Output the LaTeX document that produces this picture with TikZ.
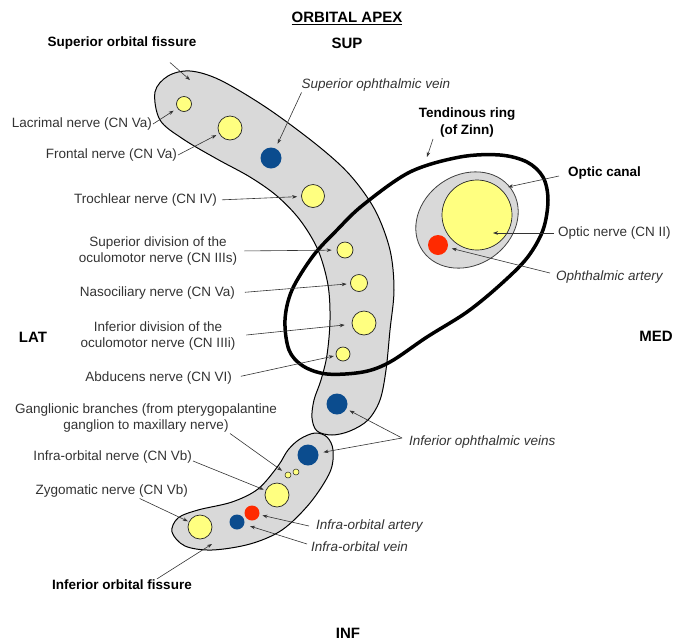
\documentclass[tikz,border=0pt]{standalone}
\usepackage{fontspec}
\setmainfont{Liberation Sans}
\usetikzlibrary{arrows.meta}
\definecolor{bandgray}{HTML}{D9D9D9}
\definecolor{nerveyellow}{HTML}{FFFF80}
\definecolor{veinblue}{HTML}{0B4C8E}
\definecolor{arteryred}{HTML}{FF2A00}
\begin{document}
\begin{tikzpicture}[x=1pt,y=-1pt,
  lab/.style={font=\fontsize{13.5}{16}\selectfont, text=black!80, inner sep=1pt, align=center},
  blab/.style={font=\fontsize{13.5}{17}\selectfont\bfseries, text=black, inner sep=1pt, align=center},
  ilab/.style={font=\fontsize{13.5}{16}\selectfont\itshape, text=black!80, inner sep=1pt},
  head/.style={font=\fontsize{15}{18}\selectfont\bfseries, inner sep=1pt},
  nerve/.style={circle, draw=black!85, line width=0.7pt, fill=nerveyellow, inner sep=0pt},
  vein/.style={circle, fill=veinblue, inner sep=0pt},
  artery/.style={circle, fill=arteryred, inner sep=0pt},
  fissure/.style={draw=black, line width=1pt, fill=bandgray},
  arr/.style={draw=black!80, line width=0.6pt, -{Stealth[length=5pt,width=3.6pt]}},
  ring/.style={draw=black, line width=3.5pt}
]
\useasboundingbox (0,0) rectangle (673,641);

% superior orbital fissure band
\draw[fissure] plot[smooth cycle, tension=0.55] coordinates {
 (155,92) (168,76) (190,71) (220,80) (267,108) (317,145) (350,175) (375,210)
 (390,250) (394,290) (390,330) (386,370) (380,400) (368,420) (350,431) (332,435)
 (317,431) (312,418) (314,400) (321,380) (327,355) (330,320) (328,285) (318,250)
 (300,220) (277,196) (250,177) (217,159) (183,139) (160,120)};

% inferior orbital fissure band
\draw[fissure] plot[smooth cycle, tension=0.55] coordinates {
 (300,439) (315,433) (327,437) (333,450) (330,472) (310,503) (282,530) (250,544)
 (212,550) (185,546) (172,532) (178,518) (198,510) (232,502) (258,489) (278,466) (288,450)};

% optic canal
\draw[fill=bandgray, draw=black!75, line width=0.8pt, rotate around={35:(467,220)}]
  (467,220) ellipse [x radius=54pt, y radius=45pt];

% structures
\node[nerve, minimum size=15pt] (lac) at (184,104) {};
\node[nerve, minimum size=24pt] (fro) at (230,128) {};
\node[vein, minimum size=21pt] (sov) at (271,158) {};
\node[nerve, minimum size=23pt] (tro) at (313,196) {};
\node[nerve, minimum size=16pt] (sdiv) at (345,250) {};
\node[nerve, minimum size=17pt] (naso) at (359,283) {};
\node[nerve, minimum size=24pt] (idiv) at (364,323) {};
\node[nerve, minimum size=14pt] (abd) at (343,354) {};
\node[vein, minimum size=21pt] (iovA) at (337,404) {};
\node[vein, minimum size=21pt] (iovB) at (308,455) {};
\node[nerve, minimum size=6pt, line width=0.5pt] (gbA) at (288,475) {};
\node[nerve, minimum size=6pt, line width=0.5pt] (gbB) at (296,472) {};
\node[nerve, minimum size=24pt] (ion) at (277,495) {};
\node[artery, minimum size=15pt] (ioa) at (252,513) {};
\node[vein, minimum size=15pt] (iovn) at (237,522) {};
\node[nerve, minimum size=24pt] (zyg) at (200,527) {};
\node[nerve, minimum size=70pt] (on) at (477,215) {};
\node[artery, minimum size=20pt] (oa) at (438,245) {};

% tendinous ring
\draw[ring] plot[smooth cycle, tension=0.55] coordinates {
 (460,157) (500,155) (527,162) (543,177) (548,200) (543,230) (527,258) (500,285)
 (467,312) (427,337) (390,362) (363,372) (327,374) (303,366) (289,350) (285,320)
 (292,290) (313,256) (337,230) (363,205) (410,172)};

% headings
\node[head] (title) at (347,18) {\underline{ORBITAL APEX}};
\node[head] (sup) at (347,43) {SUP};
\node[head] (lat) at (33,337) {LAT};
\node[head] (med) at (656,336) {MED};
\node[head] (inf) at (348,633) {INF};

% labels
\node[blab] (sofl) at (122,43) {Superior orbital fissure};
\node[lab, anchor=east] (lacl) at (153,124) {Lacrimal nerve (CN Va)};
\node[lab, anchor=east] (frol) at (178,155) {Frontal nerve (CN Va)};
\node[lab, anchor=east] (trol) at (218,200) {Trochlear nerve (CN IV)};
\node[lab] (sdivl) at (158,251) {Superior division of the\\oculomotor nerve (CN IIIs)};
\node[lab, anchor=east] (nasol) at (236,293) {Nasociliary nerve (CN Va)};
\node[lab] (idivl) at (158,336) {Inferior division of the\\oculomotor nerve (CN IIIi)};
\node[lab, anchor=east] (abdl) at (233,378) {Abducens nerve (CN VI)};
\node[lab] (gbl) at (146,418) {Ganglionic branches (from pterygopalantine\\ganglion to maxillary nerve)};
\node[lab, anchor=east] (ionl) at (193,457) {Infra-orbital nerve (CN Vb)};
\node[lab, anchor=east] (zygl) at (189,491) {Zygomatic nerve (CN Vb)};
\node[blab] (iofl) at (122,585) {Inferior orbital fissure};

\node[ilab] (sovl) at (376,85) {Superior ophthalmic vein};
\node[blab] (trl) at (467,123) {Tendinous ring\\(of Zinn)};
\node[blab, anchor=west] (ocl) at (567,173) {Optic canal};
\node[lab, anchor=west] (onl) at (557,233) {Optic nerve (CN II)};
\node[ilab, anchor=west] (oal) at (555,277) {Ophthalmic artery};
\node[ilab, anchor=west] (iovl) at (408,442) {Inferior ophthalmic veins};
\node[ilab, anchor=west] (ioal) at (315,526) {Infra-orbital artery};
\node[ilab, anchor=west] (iovnl) at (310,547) {Infra-orbital vein};

% arrow end points on shapes
\coordinate (sofT) at (190,80);
\coordinate (iofT) at (212,544);
\coordinate (trT) at (427,157);
\coordinate (ocT) at (508,187);
\coordinate (onT) at (493,233);

% arrows
\draw[arr] ([xshift=48pt,yshift=-12pt]sofl.south) -- (sofT);
\draw[arr, shorten >=4.5pt] (lacl.east) -- (lac);
\draw[arr, shorten >=3pt] (frol.east) -- (fro);
\draw[arr, shorten <=4pt, shorten >=4pt] (trol.east) -- (tro);
\draw[arr, shorten <=6pt, shorten >=5pt] (sdivl.east) -- (sdiv);
\draw[arr, shorten <=9pt, shorten >=3.5pt] (nasol.east) -- (naso);
\draw[arr, shorten <=10pt, shorten >=7pt] (idivl.east) -- (idiv);
\draw[arr, shorten <=8pt, shorten >=2pt] (abdl.east) -- (abd);
\draw[arr, shorten >=4pt] ([xshift=84pt]gbl.south) -- (gbA);
\draw[arr, shorten >=2pt] ([yshift=-4pt]ionl.east) -- (ion);
\draw[arr, shorten >=1pt] ([xshift=28pt]zygl.south) -- (zyg);
\draw[arr] ([xshift=35pt]iofl.north) -- (iofT);

\draw[arr, shorten >=5pt] ([xshift=1pt]sovl.south west) -- (sov);
\draw[arr] ([xshift=-34pt]trl.south) -- (trT);
\draw[arr] ([xshift=-8pt,yshift=-3pt]ocl.west) -- (ocT);
\draw[arr] ([xshift=-3pt]onl.west) -- (onT);
\draw[arr, shorten >=4pt] ([xshift=-5pt,yshift=4pt]oal.west) -- (oa);
\draw[arr, shorten >=3.5pt] ([xshift=-6pt,yshift=4pt]iovl.west) -- (iovA);
\draw[arr, shorten >=5pt] ([xshift=-6pt,yshift=4pt]iovl.west) -- (iovB);
\draw[arr, shorten >=3pt] ([xshift=-6pt]ioal.west) -- (ioa);
\draw[arr, shorten >=6pt] ([xshift=-3pt,yshift=3pt]iovnl.west) -- (iovn);
\end{tikzpicture}
\end{document}
